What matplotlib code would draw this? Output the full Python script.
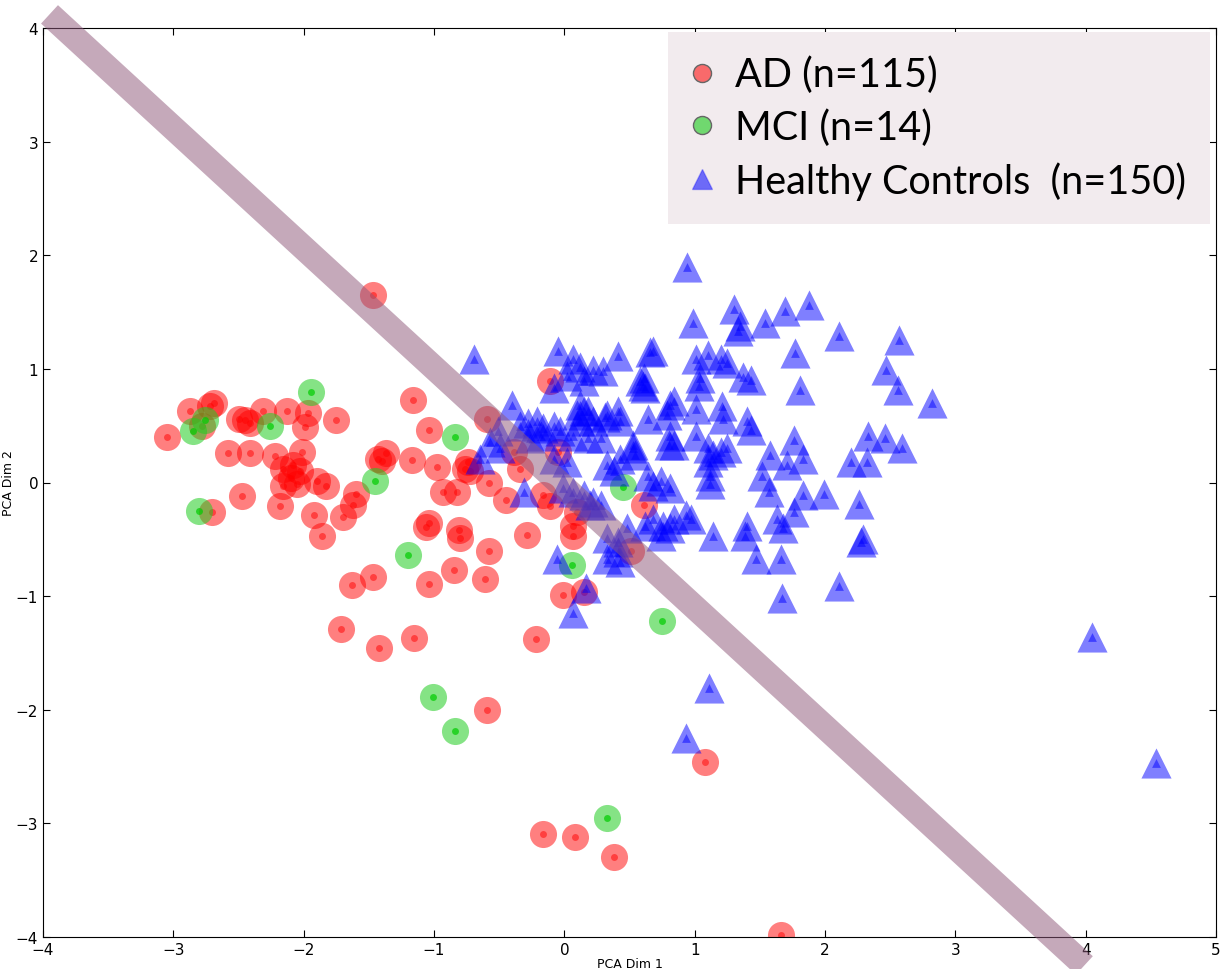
import numpy as np
import matplotlib.pyplot as plt
from matplotlib.lines import Line2D

# AD (red circles)
ad_x = [-1.47, -3.05, -2.87, -2.69, -2.72, -2.78, -2.50, -2.45, -2.41, -2.31, -2.13, -1.97,
        -1.99, -1.75, -2.58, -2.41, -2.22, -2.01, -2.16, -2.08, -2.03, -2.10, -2.16, -2.05,
        -1.90, -1.83, -2.47, -2.70, -2.18, -1.92, -1.86, -1.70, -1.60, -1.62, -1.43, -1.37,
        -1.40, -1.17, -1.16, -1.04, -0.98, -0.93, -1.04, -1.06, -0.74, -0.76, -0.72, -0.82,
        -0.58, -0.45, -0.81, -0.80, -0.58, -0.85, -1.04, -0.61, -0.29, -0.11, -0.59, -0.39,
        -0.34, -0.05, -0.16, -0.11, 0.10, 0.07, 0.07, 0.51, 0.61, -0.01, 0.15, -1.47,
        -1.63, -1.71, -1.42, -1.15, -0.22, -0.59, 1.08, -0.16, 0.08, 0.38, 1.66]
ad_y = [1.65, 0.40, 0.63, 0.70, 0.67, 0.50, 0.56, 0.55, 0.52, 0.63, 0.63, 0.61,
        0.49, 0.55, 0.26, 0.26, 0.23, 0.27, 0.12, 0.15, 0.10, 0.04, -0.03, -0.01,
        0.01, -0.03, -0.12, -0.26, -0.21, -0.29, -0.47, -0.30, -0.10, -0.20, 0.21, 0.26,
        0.19, 0.20, 0.73, 0.46, 0.14, -0.08, -0.36, -0.39, 0.18, 0.12, 0.10, -0.08,
        0.00, -0.15, -0.42, -0.49, -0.60, -0.77, -0.89, -0.85, -0.46, 0.89, 0.56, 0.27,
        0.12, 0.27, -0.11, -0.21, -0.26, -0.38, -0.47, -0.60, -0.20, -0.99, -0.96, -0.83,
        -0.90, -1.29, -1.46, -1.37, -1.38, -2.00, -2.46, -3.09, -3.12, -3.30, -3.98]

# MCI (green circles)
mci_x = [-1.94, -2.76, -2.85, -2.26, -2.80, -1.45, -1.20, -0.84, 0.45, 0.06, 0.75, -1.01, -0.84, 0.33]
mci_y = [0.80, 0.55, 0.45, 0.50, -0.25, 0.01, -0.64, 0.40, -0.04, -0.73, -1.22, -1.89, -2.19, -2.95]

# Healthy controls (blue triangles)
hc_x = [0.94, 0.99, 1.30, 1.35, 1.33, 1.54, 1.69, 1.88, 2.11, 2.57, 2.47, 2.56, 2.82, 1.77,
        1.81, 2.33, 2.46, 2.59, 2.20, 2.32, 1.99, 2.26, 2.28, 2.29, 2.11, 1.67, 4.05, 4.54,
        1.11, 0.93, 0.07, 0.17, -0.06, -0.69, -0.65,
        0.41, 0.66, 0.68, 0.61, 0.60, 0.62, 0.58, 0.22, 0.30, 1.01, 1.10, 1.20, 1.25, 1.04,
        1.03, 1.43, 1.37, 0.81, 0.84, 0.79, 1.01, 1.21, 1.22, 1.40, 1.43, 0.31, 0.43, 0.15,
        0.12, 0.53, 0.54, 0.64, 0.81, 0.80, 0.84, 1.01, 1.10, 1.14, 1.10, 1.20, 1.25, 1.58,
        1.76, 1.83, 1.71, 1.52, 1.83, 1.76, 1.12, 1.12, 0.93, 0.74, 0.81, 0.38, 0.62, 0.81,
        0.84, 0.97, 1.14, 1.40, 1.39, 1.63, 1.68, 1.57, 1.47, 1.66, 0.41, 0.33, 0.48, 0.20,
        0.15,
        -0.05, 0.07, 0.12, 0.02, -0.08, 0.12, 0.10, 0.18, -0.40, -0.34, -0.28, -0.21, -0.16,
        -0.51, -0.57, -0.49, -0.26, -0.18, -0.08, -0.03, 0.07, 0.18, 0.28, 0.22, 0.33, 0.41,
        -0.31, -0.08, 0.02, -0.01, 0.07, 0.15, 0.22, 0.28, 0.33, 0.43, 0.53, 0.64, 0.68,
        0.33, 0.41, 0.43, 0.74, 0.68, 0.76]
hc_y = [1.90, 1.40, 1.53, 1.38, 1.33, 1.40, 1.51, 1.56, 1.29, 1.25, 0.99, 0.81, 0.70, 1.14,
        0.81, 0.41, 0.39, 0.30, 0.18, 0.18, -0.10, -0.19, -0.52, -0.50, -0.91, -1.02, -1.36, -2.47,
        -1.81, -2.25, -1.15, -0.93, -0.67, 1.09, 0.21,
        1.11, 1.15, 1.16, 0.92, 0.85, 0.83, 0.89, 0.99, 0.98, 1.09, 1.12, 1.09, 1.05, 0.92,
        0.85, 0.90, 0.93, 0.68, 0.72, 0.59, 0.65, 0.67, 0.56, 0.54, 0.46, 0.58, 0.54, 0.63,
        0.54, 0.33, 0.24, 0.56, 0.41, 0.33, 0.33, 0.41, 0.30, 0.24, 0.18, 0.27, 0.30, 0.24,
        0.37, 0.21, 0.15, 0.06, -0.11, -0.26, -0.01, 0.06, -0.29, 0.01, -0.05, 0.10, -0.38, -0.40,
        -0.32, -0.32, -0.47, -0.38, -0.47, -0.32, -0.40, -0.08, -0.67, -0.67, -0.52, -0.67, -0.40, -0.20,
        0.89,
        1.16, 1.09, 1.02, 0.94, 0.83, 0.68, 0.59, 0.63, 0.68, 0.50, 0.52, 0.54, 0.48,
        0.45, 0.36, 0.30, 0.39, 0.41, 0.50, 0.45, 0.41, 0.39, 0.39, 0.54, 0.59, 0.63,
        -0.08, 0.21, 0.18, -0.05, -0.08, -0.11, -0.17, -0.20, 0.15, 0.21, 0.30, 0.06, -0.03,
        -0.49, -0.61, -0.70, -0.47, -0.32, -0.38]

# separating line
line_x = [-3.95, 3.99]
line_y = [4.12, -4.25]

labels = ["AD (n=115)", "MCI (n=14)", "Healthy Controls  (n=150)"]

fig = plt.figure(figsize=(12.21, 9.70), dpi=100)
ax = fig.add_axes([43 / 1221, 1 - 938 / 970, 1173 / 1221, 909 / 970])

ax.scatter(ad_x, ad_y, s=380, c="red", alpha=0.5, linewidths=0, zorder=2)
ax.scatter(ad_x, ad_y, s=25, c="red", alpha=0.5, linewidths=0, zorder=2)
ax.scatter(mci_x, mci_y, s=380, c="#22cc22", alpha=0.55, linewidths=0, zorder=2)
ax.scatter(mci_x, mci_y, s=25, c="#00cc00", alpha=0.7, linewidths=0, zorder=2)
ax.scatter(hc_x, hc_y, s=470, marker="^", c="blue", alpha=0.5, linewidths=0, zorder=2)
ax.scatter(hc_x, hc_y, s=40, marker="^", c="blue", alpha=0.5, linewidths=0, zorder=2)

ax.plot(line_x, line_y, color="#905a7c", alpha=0.52, linewidth=18,
        solid_capstyle="butt", clip_on=False, zorder=3)

ax.set_xlim(-4, 5)
ax.set_ylim(-4, 4)
ax.tick_params(direction="in", top=True, right=True, labelsize=11, length=5)
ax.set_xlabel("PCA Dim 1", fontsize=9, labelpad=0)
ax.set_ylabel("PCA Dim 2", fontsize=9)
ax.yaxis.set_label_coords(-0.024, 0.5)

handles = [
    Line2D([], [], linestyle="none", marker="o", markersize=13, markerfacecolor=(1, 0, 0, 0.55),
           markeredgecolor="#666666", markeredgewidth=1),
    Line2D([], [], linestyle="none", marker="o", markersize=13, markerfacecolor=(0.1, 0.8, 0.1, 0.6),
           markeredgecolor="#666666", markeredgewidth=1),
    Line2D([], [], linestyle="none", marker="^", markersize=14, markerfacecolor=(0, 0, 1, 0.55),
           markeredgecolor=(0, 0, 1, 0.3), markeredgewidth=1),
]
leg = ax.legend(handles, labels, loc="upper right", bbox_to_anchor=(1210 / 1221, 1 - 33 / 970),
                bbox_transform=fig.transFigure, borderaxespad=0,
                prop={"family": "Lato", "size": 28.5}, frameon=True, fancybox=False,
                handletextpad=0.6, handlelength=0.5, labelspacing=0.38, borderpad=0.6)
leg.get_frame().set_facecolor("#f2ebee")
leg.get_frame().set_edgecolor("none")
leg.get_frame().set_alpha(1)
leg.set_zorder(5)

plt.savefig("out.png", dpi=100)
